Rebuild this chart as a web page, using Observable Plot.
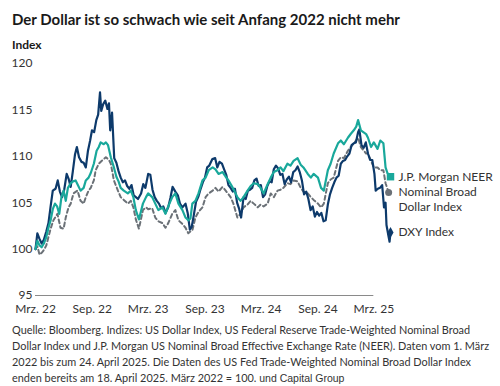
<!DOCTYPE html>
<html>
<head>
<meta charset="utf-8">
<script src="https://cdn.jsdelivr.net/npm/d3@7"></script>
<script src="https://cdn.jsdelivr.net/npm/@observablehq/plot@0.6"></script>
<style>
  html, body { margin: 0; padding: 0; background: #fff; }
  body { width: 500px; height: 386px; position: relative; overflow: hidden; font-family: Lato, "Open Sans", sans-serif; color: #222; }
  #title { position: absolute; left: 12px; top: 10px; font-size: 15px; font-weight: 700; white-space: nowrap; color: #1a1a1a; }
  #ylab { position: absolute; left: 12px; top: 37px; font-size: 12px; font-weight: 700; color: #1a1a1a; }
  #chart { position: absolute; left: 0; top: 50px; }
  #caption { position: absolute; left: 12px; top: 322px; font-size: 10.9px; line-height: 16px; white-space: nowrap; color: #333; }
  #caption .src { font-family: "Liberation Sans Narrow", "Liberation Sans", Arial, sans-serif; font-size: 10.5px; }
</style>
</head>
<body>
<div id="title">Der Dollar ist so schwach wie seit Anfang 2022 nicht mehr</div>
<div id="ylab">Index</div>
<div id="chart"></div>
<div id="caption">Quelle: Bloomberg. Indizes: US Dollar Index, US Federal Reserve Trade-Weighted Nominal Broad<br>Dollar Index und J.P. Morgan US Nominal Broad Effective Exchange Rate (NEER). Daten vom 1. März<br>2022 bis zum 24. April 2025. Die Daten des US Fed Trade-Weighted Nominal Broad Dollar Index<br>enden bereits am 18. April 2025. März 2022 = 100. <span class="src">und Capital Group</span></div>
<script>
// ---- Data (March 2022 = 100) ----
const seriesNames = ["J.P. Morgan NEER", "Nominal Broad\nDollar Index", "DXY Index"];

const dxyData = [
["2022-03-01",100.0],["2022-03-07",101.7],["2022-03-14",101.1],["2022-03-21",100.6],["2022-03-28",101.0],
["2022-04-05",101.9],["2022-04-12",102.8],["2022-04-19",104.6],["2022-04-26",106.3],["2022-05-05",106.5],
["2022-05-12",107.4],["2022-05-19",106.2],["2022-05-26",105.6],["2022-06-02",106.4],["2022-06-10",108.1],
["2022-06-16",107.6],["2022-06-23",106.7],["2022-06-30",108.4],["2022-07-07",110.2],["2022-07-13",111.0],
["2022-07-20",109.9],["2022-07-28",109.4],["2022-08-04",109.3],["2022-08-11",108.8],["2022-08-18",110.6],
["2022-08-25",111.7],["2022-08-31",112.8],["2022-09-07",112.6],["2022-09-14",113.9],["2022-09-20",114.5],
["2022-09-26",116.9],["2022-09-30",114.9],["2022-10-06",115.6],["2022-10-13",116.0],["2022-10-20",115.1],
["2022-10-25",115.7],["2022-10-29",112.8],["2022-11-04",114.7],["2022-11-11",109.8],["2022-11-18",109.3],
["2022-11-25",108.4],["2022-12-02",107.7],["2022-12-09",107.2],["2022-12-16",107.4],["2022-12-23",106.8],
["2022-12-30",106.5],["2023-01-06",106.9],["2023-01-13",105.8],["2023-01-20",105.6],["2023-01-27",105.4],
["2023-02-06",106.0],["2023-02-13",107.0],["2023-02-20",106.6],["2023-03-01",108.1],["2023-03-08",108.0],
["2023-03-15",106.4],["2023-03-22",105.6],["2023-03-29",105.2],["2023-04-05",104.9],["2023-04-12",104.4],
["2023-04-19",104.6],["2023-04-26",103.9],["2023-05-05",104.5],["2023-05-12",105.5],["2023-05-19",106.7],
["2023-05-28",106.2],["2023-06-05",105.8],["2023-06-12",104.9],["2023-06-20",104.5],["2023-06-30",104.9],
["2023-07-07",103.9],["2023-07-14",102.1],["2023-07-20",102.4],["2023-07-26",103.5],["2023-08-03",105.1],
["2023-08-11",105.7],["2023-08-18",106.5],["2023-08-25",107.2],["2023-09-01",107.7],["2023-09-08",108.8],
["2023-09-15",109.0],["2023-09-25",109.7],["2023-10-04",109.8],["2023-10-11",108.8],["2023-10-18",109.4],
["2023-10-26",109.2],["2023-11-02",108.6],["2023-11-09",108.0],["2023-11-16",106.9],["2023-11-23",106.6],
["2023-11-30",106.2],["2023-12-07",106.5],["2023-12-14",105.0],["2023-12-21",104.3],["2023-12-27",103.4],
["2024-01-04",105.6],["2024-01-11",105.4],["2024-01-18",106.3],["2024-01-25",106.4],["2024-02-01",106.6],
["2024-02-08",107.4],["2024-02-15",107.6],["2024-02-22",106.8],["2024-02-29",106.9],["2024-03-07",105.6],
["2024-03-14",105.9],["2024-03-21",106.8],["2024-03-28",107.3],["2024-04-04",107.2],["2024-04-11",108.6],
["2024-04-18",109.0],["2024-04-25",108.7],["2024-05-02",108.0],["2024-05-09",108.1],["2024-05-16",107.0],
["2024-05-23",107.5],["2024-05-30",107.8],["2024-06-06",107.2],["2024-06-13",108.3],["2024-06-20",108.5],
["2024-06-27",108.9],["2024-07-04",108.3],["2024-07-11",107.4],["2024-07-18",105.9],["2024-07-25",106.2],
["2024-08-01",105.4],["2024-08-08",104.2],["2024-08-15",104.6],["2024-08-22",103.5],["2024-08-29",104.0],
["2024-09-05",103.6],["2024-09-12",103.9],["2024-09-19",103.0],["2024-09-26",103.1],["2024-10-03",104.8],
["2024-10-10",105.9],["2024-10-17",106.6],["2024-10-24",107.2],["2024-10-31",107.7],["2024-11-07",107.9],
["2024-11-14",109.2],["2024-11-21",109.5],["2024-11-28",109.6],["2024-12-05",110.0],["2024-12-12",110.3],
["2024-12-19",111.2],["2024-12-26",111.4],["2025-01-02",111.5],["2025-01-09",112.6],["2025-01-13",112.9],
["2025-01-20",111.2],["2025-01-27",110.9],["2025-02-03",111.5],["2025-02-10",110.3],["2025-02-17",109.6],
["2025-02-24",109.6],["2025-03-03",108.1],["2025-03-07",106.3],["2025-03-14",106.5],["2025-03-21",106.6],
["2025-03-28",106.9],["2025-04-03",104.5],["2025-04-08",105.0],["2025-04-11",102.6],["2025-04-17",101.5],
["2025-04-21",100.8],["2025-04-24",101.8]
];

const neerData = [
["2022-03-01",100.0],["2022-03-07",100.9],["2022-03-14",100.4],["2022-03-21",100.2],["2022-03-28",100.6],
["2022-04-05",101.3],["2022-04-12",102.3],["2022-04-19",103.1],["2022-04-26",104.3],["2022-05-03",104.9],
["2022-05-10",104.6],["2022-05-17",103.8],["2022-05-24",105.6],["2022-05-31",106.3],["2022-06-07",105.2],
["2022-06-14",106.6],["2022-06-23",107.1],["2022-07-01",107.3],["2022-07-09",107.4],["2022-07-15",107.0],
["2022-07-25",106.3],["2022-08-04",106.6],["2022-08-11",107.4],["2022-08-20",107.7],["2022-08-27",108.2],
["2022-09-06",109.2],["2022-09-15",110.6],["2022-09-22",111.0],["2022-09-28",111.5],["2022-10-08",111.3],
["2022-10-15",111.5],["2022-10-22",111.2],["2022-10-31",109.9],["2022-11-10",108.8],["2022-11-18",107.8],
["2022-11-25",107.3],["2022-12-02",106.6],["2022-12-12",106.3],["2022-12-25",106.0],["2023-01-04",106.3],
["2023-01-12",105.6],["2023-01-20",104.2],["2023-01-30",103.2],["2023-02-12",104.9],["2023-02-22",105.6],
["2023-03-01",106.0],["2023-03-14",105.6],["2023-03-24",104.9],["2023-04-03",104.2],["2023-04-16",104.5],
["2023-04-26",103.8],["2023-05-05",104.6],["2023-05-18",105.6],["2023-05-28",106.0],["2023-06-07",104.9],
["2023-06-20",104.2],["2023-06-30",103.4],["2023-07-09",103.1],["2023-07-16",103.3],["2023-07-22",104.9],
["2023-08-01",105.2],["2023-08-11",106.0],["2023-08-24",107.4],["2023-09-03",107.7],["2023-09-13",108.5],
["2023-09-26",108.8],["2023-10-05",108.6],["2023-10-15",108.1],["2023-10-28",108.3],["2023-11-07",107.8],
["2023-11-16",107.4],["2023-11-25",106.9],["2023-12-05",106.3],["2023-12-15",105.6],["2023-12-25",105.2],
["2024-01-04",105.6],["2024-01-17",106.3],["2024-01-27",106.8],["2024-02-06",107.1],["2024-02-19",107.0],
["2024-02-28",106.6],["2024-03-09",106.0],["2024-03-22",107.0],["2024-04-01",107.7],["2024-04-11",108.3],
["2024-04-23",108.5],["2024-05-03",108.8],["2024-05-12",108.4],["2024-05-25",109.2],["2024-06-04",109.0],
["2024-06-14",109.5],["2024-06-27",109.8],["2024-07-07",109.1],["2024-07-16",108.8],["2024-07-30",108.1],
["2024-08-09",107.7],["2024-08-18",108.1],["2024-09-01",107.7],["2024-09-11",106.6],["2024-09-20",106.3],
["2024-10-03",108.5],["2024-10-12",109.2],["2024-10-22",110.3],["2024-11-05",111.4],["2024-11-14",111.7],
["2024-11-24",111.3],["2024-12-07",112.0],["2024-12-16",112.4],["2024-12-26",112.8],["2025-01-03",113.2],
["2025-01-09",113.9],["2025-01-18",112.8],["2025-02-04",112.4],["2025-02-10",112.0],["2025-02-20",111.0],
["2025-03-01",111.5],["2025-03-13",110.8],["2025-03-22",111.7],["2025-04-01",111.4],["2025-04-08",108.8],
["2025-04-14",108.2],["2025-04-24",107.8]
];

const broadData = [
["2022-03-01",100.0],["2022-03-07",100.3],["2022-03-14",99.4],["2022-03-21",99.6],["2022-03-28",99.9],
["2022-04-05",100.4],["2022-04-12",101.3],["2022-04-19",102.2],["2022-04-28",103.1],["2022-05-11",103.8],
["2022-05-21",102.3],["2022-05-31",102.2],["2022-06-07",103.4],["2022-06-16",104.5],["2022-06-23",104.9],
["2022-07-02",106.0],["2022-07-15",106.3],["2022-07-25",105.2],["2022-08-04",104.9],["2022-08-11",105.6],
["2022-08-20",106.3],["2022-08-27",106.6],["2022-09-06",107.4],["2022-09-12",108.5],["2022-09-22",109.2],
["2022-10-01",109.5],["2022-10-15",109.9],["2022-10-25",109.6],["2022-10-31",109.2],["2022-11-10",107.4],
["2022-11-23",106.3],["2022-12-02",105.6],["2022-12-12",105.3],["2022-12-25",104.9],["2023-01-04",105.2],
["2023-01-12",104.5],["2023-01-20",103.2],["2023-01-30",102.2],["2023-02-12",104.2],["2023-02-22",104.5],
["2023-03-01",104.3],["2023-03-14",104.4],["2023-03-24",103.4],["2023-04-03",103.0],["2023-04-16",102.8],
["2023-04-26",102.3],["2023-05-05",102.8],["2023-05-18",103.8],["2023-05-28",104.2],["2023-06-07",103.1],
["2023-06-20",102.7],["2023-06-30",102.3],["2023-07-09",101.7],["2023-07-16",101.9],["2023-07-22",102.0],
["2023-08-01",103.4],["2023-08-11",104.0],["2023-08-24",104.5],["2023-09-03",105.6],["2023-09-13",106.0],
["2023-09-26",106.3],["2023-10-05",106.6],["2023-10-15",106.2],["2023-10-28",106.7],["2023-11-07",106.3],
["2023-11-14",106.0],["2023-11-23",105.6],["2023-12-02",104.9],["2023-12-15",103.4],["2023-12-25",103.8],
["2024-01-04",104.5],["2024-01-17",104.8],["2024-01-27",105.2],["2024-02-06",104.9],["2024-02-19",104.5],
["2024-02-28",104.8],["2024-03-09",104.6],["2024-03-22",104.9],["2024-04-01",106.0],["2024-04-11",105.6],
["2024-04-23",106.3],["2024-05-03",106.4],["2024-05-12",106.6],["2024-05-25",107.1],["2024-06-04",107.0],
["2024-06-14",107.4],["2024-06-27",107.3],["2024-07-07",106.6],["2024-07-16",106.2],["2024-07-30",106.0],
["2024-08-09",105.6],["2024-08-18",105.3],["2024-09-01",104.9],["2024-09-11",104.5],["2024-09-20",104.9],
["2024-10-03",107.1],["2024-10-12",107.5],["2024-10-22",107.7],["2024-11-05",109.5],["2024-11-14",109.9],
["2024-11-24",109.8],["2024-12-07",110.6],["2024-12-16",111.0],["2024-12-26",111.4],["2025-01-09",112.0],
["2025-01-18",111.0],["2025-02-04",110.3],["2025-02-10",110.3],["2025-02-20",109.5],["2025-03-01",108.8],
["2025-03-13",108.8],["2025-03-22",108.5],["2025-04-01",108.5],["2025-04-08",107.1],["2025-04-18",106.1]
];

const yTicks = [95, 100, 105, 110, 115, 120];
const xTickDates = ["2022-03-01","2022-09-01","2023-03-01","2023-09-01","2024-03-01","2024-09-01","2025-03-01"];
const xTickLabels = ["Mrz. 22","Sep. 22","Mrz. 23","Sep. 23","Mrz. 24","Sep. 24","Mrz. 25"];

// ---- Build tables ----
const toRows = (arr, s) => arr.map(([d, v]) => ({date: new Date(d), value: v, series: s}));
const dxy = toRows(dxyData, "DXY");
const neer = toRows(neerData, "NEER");
const broad = toRows(broadData, "Broad");
const colors = {NEER: "#19a89b", Broad: "#6b7177", DXY: "#0d3a6b"};

const lastOf = a => a[a.length - 1];
const ends = [
  {...lastOf(neer), label: seriesNames[0]},
  {...lastOf(broad), label: seriesNames[1]},
  {...lastOf(dxy), label: seriesNames[2]}
];

const tickMap = new Map(xTickDates.map((d, i) => [new Date(d).getTime(), xTickLabels[i]]));

const chart = Plot.plot({
  width: 500,
  height: 270,
  marginTop: 13,
  marginBottom: 25,
  marginLeft: 35,
  marginRight: 110,
  style: {fontFamily: "Lato, 'Open Sans', sans-serif", fontSize: "12px", color: "#333", background: "#fff"},
  x: {type: "utc", domain: [new Date("2022-03-01"), new Date("2025-04-24")]},
  y: {domain: [95, 120]},
  marks: [
    Plot.ruleY([{y: 95, x1: new Date("2022-03-01"), x2: new Date("2025-03-01")}], {y: "y", x1: "x1", x2: "x2", stroke: "#8a8a8a", strokeWidth: 1}),
    Plot.axisY({ticks: yTicks, tickSize: 0, tickPadding: 3, fontSize: 12, fill: "#333"}),
    Plot.axisX({ticks: xTickDates.map(d => new Date(d)), tickFormat: d => tickMap.get(d.getTime()), tickSize: 0, tickPadding: 9, fontSize: 12, fill: "#333"}),
    Plot.lineY(broad, {x: "date", y: "value", stroke: colors.Broad, strokeWidth: 2, strokeDasharray: "4,3"}),
    Plot.lineY(dxy, {x: "date", y: "value", stroke: colors.DXY, strokeWidth: 2.2}),
    Plot.lineY(neer, {x: "date", y: "value", stroke: colors.NEER, strokeWidth: 2.2}),
    Plot.dot([ends[0]], {x: "date", y: "value", symbol: "square", r: 4.2, fill: colors.NEER}),
    Plot.dot([ends[1]], {x: "date", y: "value", symbol: "circle", r: 3.5, fill: colors.Broad}),
    Plot.dot([ends[2]], {x: "date", y: "value", symbol: "diamond", r: 3.2, fill: colors.DXY}),
    Plot.text([ends[0], ends[2]], {x: new Date("2025-04-24"), y: "value", text: "label", dx: 8, textAnchor: "start", lineAnchor: "middle", fontSize: 12, fill: "#333"}),
    Plot.text([ends[1]], {x: new Date("2025-04-24"), y: "value", text: "label", dx: 8, dy: -7, textAnchor: "start", lineAnchor: "top", lineHeight: 1.25, fontSize: 12, fill: "#333"})
  ]
});
document.getElementById("chart").appendChild(chart);
</script>
</body>
</html>
